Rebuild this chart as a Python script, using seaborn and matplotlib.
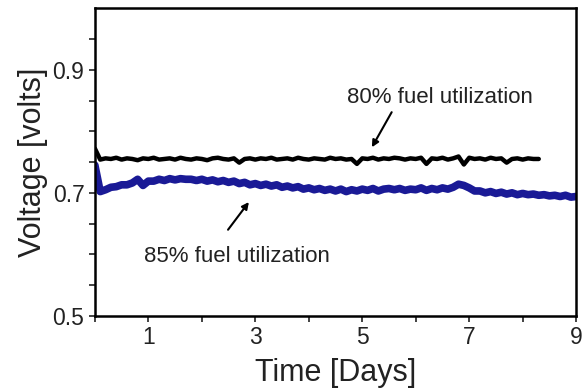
import numpy as np
import matplotlib
matplotlib.use("Agg")
import matplotlib.pyplot as plt
import seaborn as sns

# Данные (шаг 0.1 суток)
step_days = 0.1
v80 = [0.772, 0.754, 0.756, 0.755, 0.757, 0.754, 0.756, 0.755, 0.753, 0.756,
       0.755, 0.757, 0.754, 0.755, 0.756, 0.754, 0.757, 0.755, 0.754, 0.756,
       0.755, 0.753, 0.756, 0.757, 0.755, 0.754, 0.756, 0.749, 0.755, 0.756,
       0.754, 0.756, 0.755, 0.757, 0.754, 0.755, 0.756, 0.754, 0.757, 0.755,
       0.754, 0.756, 0.755, 0.754, 0.757, 0.755, 0.756, 0.754, 0.755, 0.747,
       0.756, 0.755, 0.757, 0.754, 0.756, 0.755, 0.757, 0.756, 0.754, 0.756,
       0.755, 0.757, 0.747, 0.756, 0.755, 0.757, 0.754, 0.756, 0.759, 0.746,
       0.757, 0.755, 0.756, 0.754, 0.757, 0.755, 0.756, 0.749, 0.755, 0.756,
       0.754, 0.756, 0.755, 0.755]
v85 = [0.745, 0.702, 0.705, 0.709, 0.710, 0.713, 0.713, 0.716, 0.722, 0.712,
       0.719, 0.719, 0.722, 0.720, 0.723, 0.721, 0.723, 0.722, 0.722, 0.720,
       0.722, 0.719, 0.721, 0.718, 0.720, 0.717, 0.719, 0.715, 0.717, 0.713,
       0.715, 0.712, 0.714, 0.711, 0.713, 0.709, 0.711, 0.708, 0.710, 0.706,
       0.708, 0.705, 0.707, 0.704, 0.706, 0.703, 0.706, 0.702, 0.705, 0.703,
       0.706, 0.704, 0.707, 0.703, 0.706, 0.707, 0.705, 0.707, 0.704, 0.706,
       0.705, 0.708, 0.704, 0.707, 0.705, 0.708, 0.706, 0.709, 0.714, 0.712,
       0.708, 0.703, 0.703, 0.700, 0.702, 0.699, 0.701, 0.698, 0.700, 0.697,
       0.699, 0.697, 0.698, 0.696, 0.697, 0.695, 0.696, 0.694, 0.696, 0.693,
       0.694]

t80 = np.arange(len(v80)) * step_days
t85 = np.arange(len(v85)) * step_days

sns.set_style("ticks")
plt.rcParams['font.family'] = ['Liberation Sans', 'DejaVu Sans']

fig = plt.figure(figsize=(5.82, 3.9), dpi=100)
ax = fig.add_axes([0.163, 0.19, 0.827, 0.789])

sns.lineplot(x=t85, y=v85, ax=ax, color='#1a1a96', lw=5.5)
sns.lineplot(x=t80, y=v80, ax=ax, color='black', lw=3.2)

ax.set_xlim(0, 9)
ax.set_ylim(0.5, 1.0)
ax.set_xticks(np.arange(0, 10, 1))
ax.set_xticklabels(['' if i % 2 == 0 else str(i) for i in range(10)])
yt = np.arange(0.5, 1.0, 0.05)
ax.set_yticks(yt)
ax.set_yticklabels([f'{y:.1f}' if round(y, 2) in (0.5, 0.7, 0.9) else '' for y in yt])
ax.tick_params(labelsize=16.5, width=1.2, length=4, colors='#222222')
for s in ax.spines.values():
    s.set_visible(True)
    s.set_linewidth(1.8)
    s.set_color('black')

ax.set_xlabel('Time [Days]', fontsize=22, color='#222222', labelpad=6)
ax.set_ylabel('Voltage [volts]', fontsize=22, color='#222222', labelpad=3)

# подписи и стрелки
ax.text(4.72, 0.855, '80% fuel utilization', fontsize=16, color='#222222', ha='left', va='center')
ax.annotate('', xy=(5.18, 0.774), xytext=(5.55, 0.831),
            arrowprops=dict(arrowstyle='-|>', color='black', lw=1.5, shrinkA=0, shrinkB=0))
ax.text(0.92, 0.597, '85% fuel utilization', fontsize=16, color='#222222', ha='left', va='center')
ax.annotate('', xy=(2.88, 0.685), xytext=(2.49, 0.64),
            arrowprops=dict(arrowstyle='-|>', color='black', lw=1.5, shrinkA=0, shrinkB=0))

fig.savefig('out.png', dpi=100)
